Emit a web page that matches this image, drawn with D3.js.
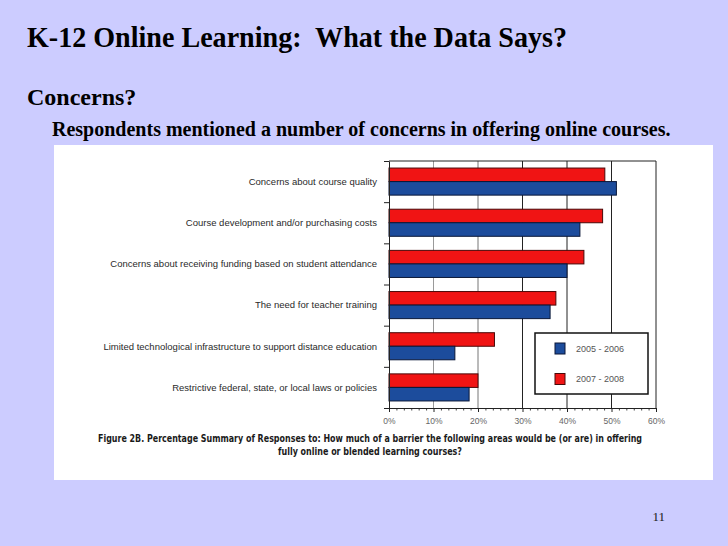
<!DOCTYPE html>
<html>
<head>
<meta charset="utf-8">
<script src="https://cdn.jsdelivr.net/npm/d3@7"></script>
<style>
  html, body { margin: 0; padding: 0; background: #ccccff; }
  svg { display: block; }
</style>
</head>
<body>
<svg id="chart" width="728" height="546"></svg>
<script>
// ---- data ----
const categories = [
  "Concerns about course quality",
  "Course development and/or purchasing costs",
  "Concerns about receiving funding based on student attendance",
  "The need for teacher training",
  "Limited technological infrastructure to support distance education",
  "Restrictive federal, state, or local laws or policies"
];
const seriesNames = ["2007 - 2008", "2005 - 2006"];
const values2007 = [48.5, 48.0, 43.8, 37.5, 23.7, 20.0];
const values2005 = [51.1, 42.9, 40.0, 36.2, 14.8, 18.0];
const xTicks = [0, 10, 20, 30, 40, 50, 60];
const legendOrder = ["2005 - 2006", "2007 - 2008"];

const title = "K-12 Online Learning:\u00a0 What the Data Says?";
const heading = "Concerns?";
const bullet = "Respondents mentioned a number of concerns in offering online courses.";
const captionLines = [
  "Figure 2B. Percentage Summary of Responses to:  How much of a barrier the following areas would be (or are) in offering",
  "fully online or blended learning courses?"
];
const slideNumber = "11";

const colors = { "2007 - 2008": "#f01414", "2005 - 2006": "#1c4c9c" };
const strokes = { "2007 - 2008": "#4a0808", "2005 - 2006": "#0a1738" };

const svg = d3.select("#chart");

// slide texts
svg.append("text").attr("x", 27).attr("y", 47)
  .attr("font-family", "'Liberation Serif','Times New Roman',serif")
  .attr("font-weight", "bold").attr("font-size", 29).attr("fill", "#000")
  .attr("textLength", 540).attr("lengthAdjust", "spacingAndGlyphs")
  .text(title);
svg.append("text").attr("x", 27).attr("y", 105)
  .attr("font-family", "'Liberation Serif','Times New Roman',serif")
  .attr("font-weight", "bold").attr("font-size", 24).attr("fill", "#000")
  .text(heading);
svg.append("text").attr("x", 52).attr("y", 136)
  .attr("font-family", "'Liberation Serif','Times New Roman',serif")
  .attr("font-weight", "bold").attr("font-size", 20).attr("fill", "#000")
  .text(bullet);
svg.append("text").attr("x", 665).attr("y", 521).attr("text-anchor", "end")
  .attr("font-family", "'Liberation Serif','Times New Roman',serif")
  .attr("font-size", 13).attr("fill", "#222")
  .text(slideNumber);

// white panel
svg.append("rect").attr("x", 54).attr("y", 145).attr("width", 659).attr("height", 335)
  .attr("fill", "#fff");

// scales
const x = d3.scaleLinear().domain([0, 60]).range([389, 656]);
const y = d3.scaleBand().domain(categories).range([161, 408]).padding(0);
const yInner = d3.scaleBand().domain(seriesNames).range([0, y.bandwidth()]).paddingInner(0).paddingOuter(0.52);
const yEdges = d3.scaleLinear().domain([0, categories.length]).range([161, 408]);

const sans = "'Liberation Sans',Arial,Helvetica,sans-serif";

// gridlines
const grid = svg.append("g");
grid.selectAll("line").data(xTicks.filter(d => d > 0)).join("line")
  .attr("x1", d => x(d)).attr("x2", d => x(d))
  .attr("y1", 161).attr("y2", 408)
  .attr("stroke", d => d <= 10 ? "#9a9a9a" : (d <= 20 ? "#777" : "#222"))
  .attr("stroke-width", 1);
// top border
svg.append("line").attr("x1", x(0)).attr("x2", x(60)).attr("y1", 161).attr("y2", 161)
  .attr("stroke", "#222");

// bars
const rows = categories.map((c, i) => ({ c, vals: [
  { s: "2007 - 2008", v: values2007[i] },
  { s: "2005 - 2006", v: values2005[i] }
]}));
const gRows = svg.append("g").selectAll("g").data(rows).join("g")
  .attr("transform", d => `translate(0,${y(d.c)})`);
gRows.selectAll("rect").data(d => d.vals).join("rect")
  .attr("x", x(0))
  .attr("y", d => yInner(d.s))
  .attr("width", d => x(d.v) - x(0))
  .attr("height", yInner.bandwidth())
  .attr("fill", d => colors[d.s])
  .attr("stroke", d => strokes[d.s])
  .attr("stroke-width", 1);

// category labels
svg.append("g").selectAll("text").data(categories).join("text")
  .attr("x", 377).attr("y", d => y(d) + y.bandwidth() / 2)
  .attr("dy", "0.35em").attr("text-anchor", "end")
  .attr("font-family", sans).attr("font-size", 9.5).attr("fill", "#2a2a2a")
  .text(d => d);

// left axis (group separators)
const leftAxis = d3.axisLeft(yEdges).tickValues(d3.range(0, categories.length + 1))
  .tickSize(5).tickSizeOuter(0).tickFormat("");
const gl = svg.append("g").attr("transform", `translate(${x(0)},0)`).call(leftAxis);
gl.selectAll("path,line").attr("stroke", "#222");

// bottom axis minor
const minorTicks = d3.range(0, 61).map(i => i * 10 / 6).filter(v => v <= 60 && Math.abs(v / 10 - Math.round(v / 10)) > 0.01);
const minorAxis = d3.axisBottom(x).tickValues(minorTicks).tickSize(2.5).tickFormat("");
const gm = svg.append("g").attr("transform", "translate(0,408)").call(minorAxis);
gm.select(".domain").remove();
gm.selectAll("line").attr("stroke", "#444");

// bottom axis major
const bottomAxis = d3.axisBottom(x).tickValues(xTicks).tickSize(4).tickSizeOuter(0)
  .tickPadding(6).tickFormat(d => d + "%");
const gb = svg.append("g").attr("transform", "translate(0,408)").call(bottomAxis);
gb.selectAll("path,line").attr("stroke", "#222");
gb.selectAll("text").attr("font-family", sans).attr("font-size", 8.5).attr("fill", "#666");

// legend
const lg = svg.append("g");
lg.append("rect").attr("x", 535).attr("y", 333).attr("width", 113).attr("height", 61)
  .attr("fill", "#fff").attr("stroke", "#111").attr("stroke-width", 1.5);
const legendY = d3.scalePoint().domain(legendOrder).range([348.5, 379]);
const li = lg.selectAll("g.item").data(legendOrder).join("g").attr("class", "item");
li.append("rect").attr("x", 555).attr("y", d => legendY(d) - 5.5)
  .attr("width", 10).attr("height", 11)
  .attr("fill", d => colors[d]).attr("stroke", d => strokes[d]);
li.append("text").attr("x", 576).attr("y", d => legendY(d)).attr("dy", "0.35em")
  .attr("font-family", sans).attr("font-size", 9).attr("fill", "#555")
  .text(d => d);

// caption
const cap = svg.append("g");
cap.selectAll("text").data(captionLines).join("text")
  .attr("x", 370).attr("y", (d, i) => 442 + i * 13)
  .attr("text-anchor", "middle")
  .attr("font-family", "'Liberation Sans Narrow','DejaVu Sans Condensed','Liberation Sans',sans-serif")
  .attr("font-stretch", "condensed")
  .attr("font-weight", "bold").attr("font-size", 10).attr("fill", "#1a1a1a")
  .attr("textLength", (d, i) => i === 0 ? 544 : 184)
  .attr("lengthAdjust", "spacingAndGlyphs")
  .text(d => d);
</script>
</body>
</html>
